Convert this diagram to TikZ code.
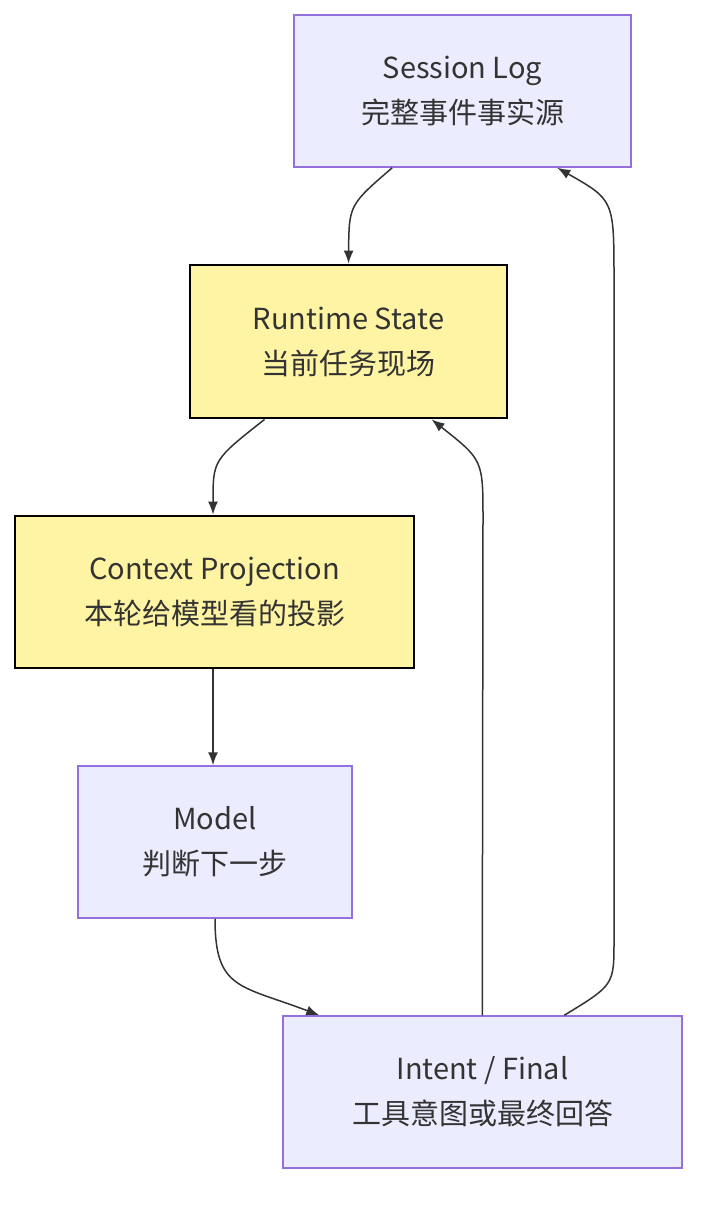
\documentclass[tikz,border=0pt]{standalone}
\usepackage{fontspec}
\setmainfont{Noto Sans CJK SC}
\usetikzlibrary{calc,arrows.meta}
\definecolor{lav}{HTML}{ECECFF}
\definecolor{lavline}{HTML}{9370DB}
\definecolor{yel}{HTML}{FFF4A3}
\definecolor{ink}{HTML}{333333}
\tikzset{
  box/.style={draw=lavline, fill=lav, line width=1.5pt, inner sep=0pt, align=center,
    font=\fontsize{29}{45}\selectfont, text=ink},
  hot/.style={box, draw=black, fill=yel, line width=2.8pt},
  link/.style={draw=ink, line width=1.5pt, -{Latex[length=13pt,width=10pt]}}
}
\begin{document}
\begin{tikzpicture}[x=1pt,y=-1pt]
\useasboundingbox (0,0) rectangle (714,1212);
\node[box, minimum width=337pt, minimum height=152pt] (log) at (462.5,91) {Session Log\\完整事件事实源};
\node[hot, minimum width=317pt, minimum height=153pt] (state) at (348.5,341.5) {Runtime State\\当前任务现场};
\node[hot, minimum width=399pt, minimum height=152pt] (proj) at (214.5,592) {Context Projection\\本轮给模型看的投影};
\node[box, minimum width=274pt, minimum height=152pt] (model) at (215,842) {Model\\判断下一步};
\node[box, minimum width=399pt, minimum height=152pt] (out) at (482.5,1092) {Intent / Final\\工具意图或最终回答};

\draw[link] ($(log.south west)+(99,0)$) .. controls (349,205) .. (state.north);
\draw[link] ($(state.south west)+(76,0)$) .. controls (213,460) .. (proj.north -| 213,0);
\draw[link] (proj.south -| 213,0) -- (model.north -| 213,0);
\draw[link] (model.south) .. controls (215,990) and (240,985) .. ($(out.north west)+(37,0)$);
\draw[link] ($(out.north west)+(200,0)$) -- (483,520) .. controls (483,460) .. ($(state.south west)+(243,0)$);
\draw[link] ($(out.north west)+(282,0)$) .. controls (614,985) .. (614,940) -- (614,280)
  .. controls (614,200) .. ($(log.south west)+(264,0)$);
\end{tikzpicture}
\end{document}
